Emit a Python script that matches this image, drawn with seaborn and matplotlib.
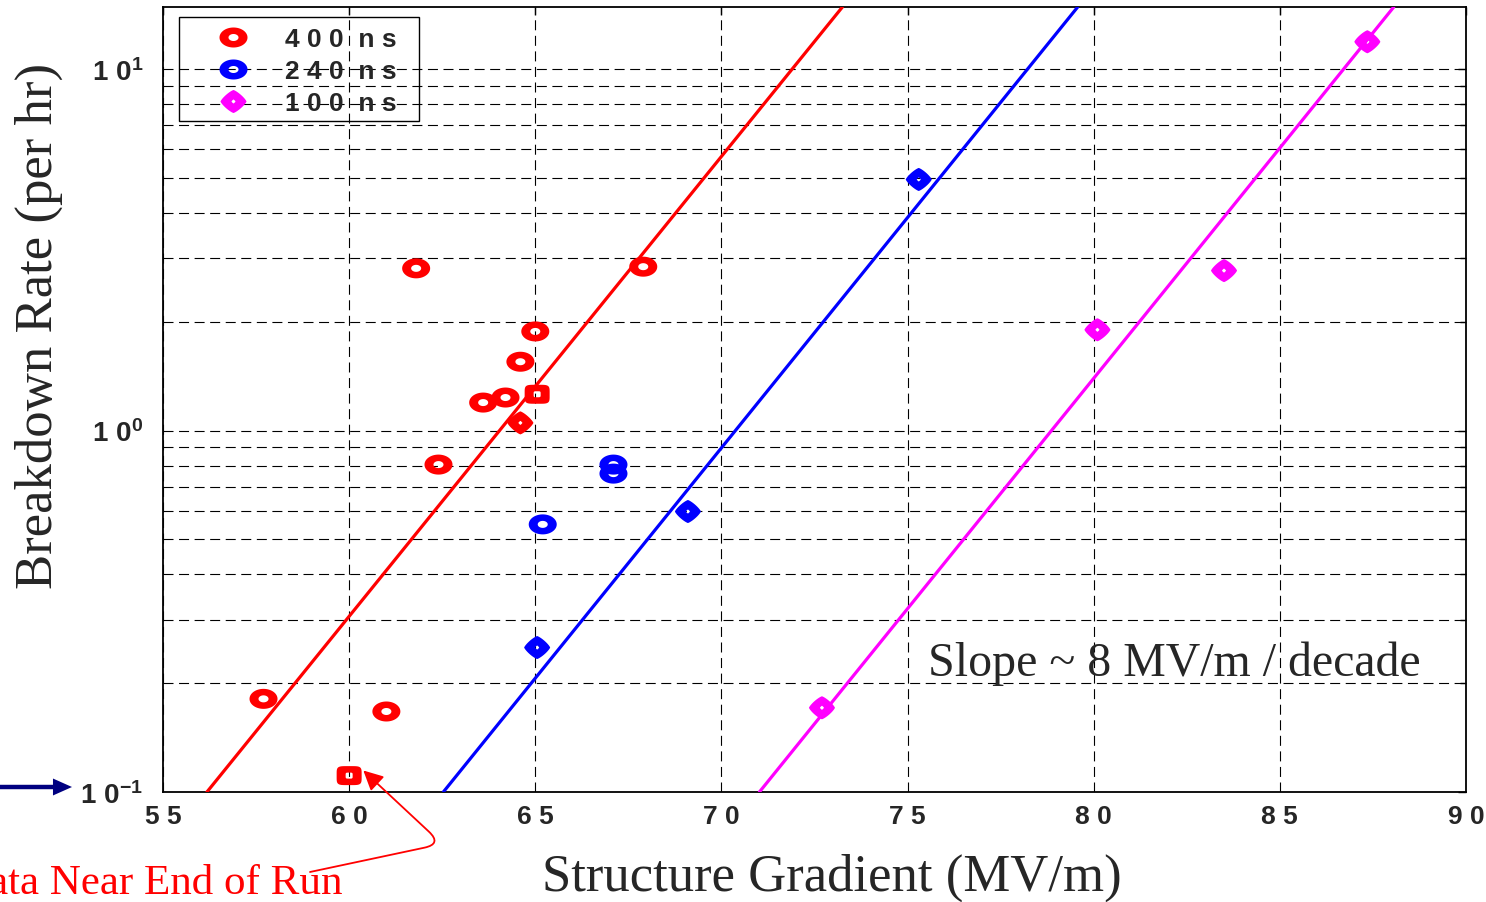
import numpy as np
import pandas as pd
import matplotlib
matplotlib.use("Agg")
import matplotlib.pyplot as plt
import seaborn as sns
from matplotlib.path import Path
from matplotlib.lines import Line2D
from matplotlib.patches import Rectangle
from matplotlib.ticker import LogLocator, NullFormatter

# ---------------- data ----------------
ring400_x = [61.8, 62.4, 63.6, 64.2, 64.6, 65.0, 67.9, 57.7, 61.0]
ring400_y = [2.81, 0.805, 1.195, 1.234, 1.55, 1.88, 2.84, 0.181, 0.167]
square400_x = [65.05]
square400_y = [1.26]
endrun400_x = [60.0]
endrun400_y = [0.111]
diamond400_x = [64.6]
diamond400_y = [1.05]

ring240_x = [67.1, 67.1, 65.2]
ring240_y = [0.805, 0.76, 0.55]
diamond240_x = [65.05, 69.1, 75.3]
diamond240_y = [0.251, 0.597, 4.95]

diamond100_x = [72.7, 80.1, 83.5, 87.35]
diamond100_y = [0.171, 1.90, 2.77, 11.9]

# fit lines (end points, ~8 MV/m per decade)
fit400_x = [56.18, 73.25]
fit240_x = [62.53, 79.57]
fit100_x = [71.02, 88.06]
fit_y = [0.1, 14.85]

legend_labels = ["4 0 0  n s", "2 4 0  n s", "1 0 0  n s"]
xtick_vals = [55, 60, 65, 70, 75, 80, 85, 90]
xtick_labels = ["5 5", "6 0", "6 5", "7 0", "7 5", "8 0", "8 5", "9 0"]
ytick_vals = [0.1, 1, 10]
ytick_labels = [r"$1\ 0^{-1}$", r"$1\ 0^{0}$", r"$1\ 0^{1}$"]

# ---------------- style ----------------
sns.set_style("white")
plt.rcParams["font.family"] = ["Liberation Sans", "DejaVu Sans"]
plt.rcParams["mathtext.fontset"] = "custom"
plt.rcParams["mathtext.rm"] = "Liberation Sans:bold"
plt.rcParams["mathtext.it"] = "Liberation Sans:bold"
plt.rcParams["mathtext.bf"] = "Liberation Sans:bold"

W, H = 1486, 903
fig = plt.figure(figsize=(W / 100, H / 100), dpi=100)
ax = fig.add_axes([163 / W, 1 - 793 / H, 1303 / W, 785 / H])


def shape_path(hw, hh, q, ihw, ihh, iq, n=160):
    t = np.linspace(0, 2 * np.pi, n, endpoint=False)
    c, s = np.cos(t), np.sin(t)

    def pts(a, b, e):
        return np.column_stack([a * np.sign(c) * np.abs(c) ** (2 / e),
                                b * np.sign(s) * np.abs(s) ** (2 / e)])
    outer = pts(hw, hh, q)
    inner = pts(ihw, ihh, iq)[::-1]
    verts = np.vstack([outer, outer[:1], inner, inner[:1]])
    codes = ([Path.MOVETO] + [Path.LINETO] * (n - 1) + [Path.CLOSEPOLY]) * 2
    return Path(verts, codes)


ring = shape_path(14.0, 10.0, 2.0, 5.0, 3.5, 2.0)
ring_sz = 28 * 0.72
diamond = shape_path(13.0, 11.5, 1.25, 2.0, 2.0, 1.2)
diamond_sz = 26 * 0.72
square = shape_path(12.5, 9.5, 5.0, 3.5, 3.0, 5.0)
square_sz = 25 * 0.72

RED, BLUE, MAG = "#ff0000", "#0000ff", "#ff00ff"

# fit lines
for fx, col in [(fit400_x, RED), (fit240_x, BLUE), (fit100_x, MAG)]:
    sns.lineplot(x=fx, y=fit_y, color=col, lw=2.3, ax=ax, zorder=3)

# markers
groups = [
    (ring400_x, ring400_y, ring, ring_sz, RED),
    (square400_x, square400_y, square, square_sz, RED),
    (endrun400_x, endrun400_y, square, square_sz, RED),
    (diamond400_x, diamond400_y, diamond, diamond_sz, RED),
    (ring240_x, ring240_y, ring, ring_sz, BLUE),
    (diamond240_x, diamond240_y, diamond, diamond_sz, BLUE),
    (diamond100_x, diamond100_y, diamond, diamond_sz, MAG),
]
for gx, gy, mk, sz, col in groups:
    sns.scatterplot(x=gx, y=gy, marker=mk, s=sz ** 2, color=col,
                    linewidth=0, edgecolor="none", ax=ax, zorder=4)

ax.set_yscale("log")
ax.set_xlim(55, 90)
ax.set_ylim(0.1, 14.85)

ax.set_xticks(xtick_vals)
ax.set_xticklabels(xtick_labels, fontsize=19, fontweight="bold")
ax.set_yticks(ytick_vals)
ax.set_yticklabels(ytick_labels, fontsize=20)
ax.yaxis.set_minor_locator(LogLocator(base=10, subs=np.arange(2, 10)))
ax.yaxis.set_minor_formatter(NullFormatter())

ax.tick_params(which="both", direction="in", top=True, right=True,
               color="black", width=1.0)
ax.tick_params(which="major", length=6)
ax.tick_params(which="minor", length=4.5)
ax.tick_params(axis="x", pad=9)
ax.tick_params(axis="y", pad=14)

ax.set_axisbelow(True)
ax.grid(which="major", axis="both", color="black", lw=0.8, ls=(0, (9, 5)))
ax.grid(which="minor", axis="y", color="black", lw=0.8, ls=(0, (9, 5)))
for sp in ax.spines.values():
    sp.set_color("black")
    sp.set_linewidth(1.3)

serif = ["Liberation Serif", "DejaVu Serif"]
ax.set_xlabel("Structure Gradient (MV/m)", family=serif, fontsize=38)
ax.set_ylabel("Breakdown Rate (per hr)", family=serif, fontsize=38)
ax.xaxis.set_label_coords((832 - 163) / 1303, (793 - 854) / 785)
ax.yaxis.set_label_coords((63 - 163) / 1303, (793 - 326) / 785)

# legend
handles = [
    Line2D([], [], ls="none", marker=ring, markersize=ring_sz,
           markerfacecolor=RED, markeredgewidth=0),
    Line2D([], [], ls="none", marker=ring, markersize=ring_sz,
           markerfacecolor=BLUE, markeredgewidth=0),
    Line2D([], [], ls="none", marker=diamond, markersize=diamond_sz,
           markerfacecolor=MAG, markeredgewidth=0),
]
ax.legend(handles, legend_labels, loc="upper left",
          bbox_to_anchor=((185 - 163) / 1303, (793 - 28) / 785),
          frameon=False, borderpad=0, borderaxespad=0,
          handlelength=3.6, handletextpad=0.2, labelspacing=0.31,
          prop=dict(weight="bold", size=19))
ax.add_patch(Rectangle(((179 - 163) / 1303, (793 - 122) / 785),
                       240 / 1303, 104 / 785, transform=ax.transAxes,
                       fill=False, edgecolor="black", lw=1.0, zorder=5))

# texts
ax.text((928 - 163) / 1303, (793 - 676) / 785, "Slope ~ 8 MV/m / decade",
        transform=ax.transAxes, family=serif, fontsize=34.5, va="baseline",
        ha="left")
fig.text(343 / W, 9 / H, "Data Near End of Run", family=serif, fontsize=31,
         color=RED, ha="right", va="baseline")

# annotation arrow to the end-of-run point
ax.annotate("", xy=(60.38, 0.1147), xycoords="data",
            xytext=(310, 30), textcoords="figure pixels",
            arrowprops=dict(arrowstyle="-|>,head_length=0.8,head_width=0.4",
                            mutation_scale=15, color=RED, lw=1.3,
                            shrinkA=0, shrinkB=0,
                            connectionstyle="angle,angleA=12,angleB=-43,rad=18"),
            annotation_clip=False)

# blue arrow at the left margin
ax.annotate("", xy=(72, 115), xycoords="figure pixels",
            xytext=(0, 115), textcoords="figure pixels",
            arrowprops=dict(arrowstyle="simple,head_length=1.37,head_width=1.22,tail_width=0.32",
                            mutation_scale=10, color="#000080", lw=0,
                            shrinkA=0, shrinkB=0),
            annotation_clip=False)

fig.savefig("out.png", dpi=100)
